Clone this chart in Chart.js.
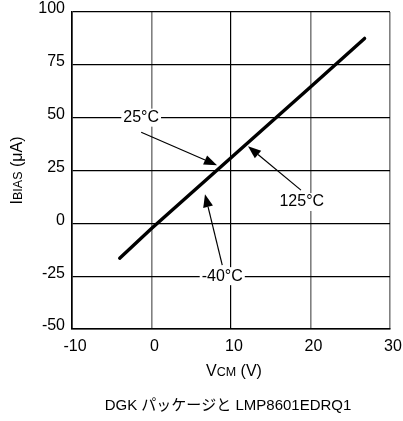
<!DOCTYPE html>
<html>
<head>
<meta charset="utf-8">
<script src="https://cdn.jsdelivr.net/npm/chart.js@4"></script>
<style>
  body { margin: 0; background: #fff; }
</style>
</head>
<body>
<canvas id="canvas" width="403" height="421"></canvas>
<script>
// bias current vs common-mode voltage
const vcm = [-4, 0, 10, 20, 26.8];
const ibias = [-16.5, -2.5, 31, 64.5, 87.5];
const xTicks = [-10, 0, 10, 20, 30];
const yTicks = [-50, -25, 0, 25, 50, 75, 100];

// temperature labels: text position and arrow tail/tip, in data units
const tempLabels = ['25°C', '125°C', '-40°C'];
const labelAt = [[-1.3, 50], [18.9, 10.1], [8.9, -25]];
const arrowFrom = [[-1.3, 43.1], [18.8, 15.7], [8.9, -19.8]];
const arrowTo = [[8.24, 27.5], [12.14, 36.5], [6.73, 13.8]];

const FONT = "'Liberation Sans', Arial, sans-serif";

function arrow(c, x1, y1, x2, y2) {
    const a = Math.atan2(y2 - y1, x2 - x1);
    const len = 13, half = 5;
    c.beginPath();
    c.moveTo(x1, y1);
    c.lineTo(x2 - Math.cos(a) * len, y2 - Math.sin(a) * len);
    c.lineWidth = 1.2;
    c.strokeStyle = '#000';
    c.stroke();
    c.beginPath();
    c.moveTo(x2, y2);
    c.lineTo(x2 - Math.cos(a) * len - Math.sin(a) * half, y2 - Math.sin(a) * len + Math.cos(a) * half);
    c.lineTo(x2 - Math.cos(a) * len + Math.sin(a) * half, y2 - Math.sin(a) * len - Math.cos(a) * half);
    c.closePath();
    c.fillStyle = '#000';
    c.fill();
}

// draws text pieces side by side, big/small mixed
function runs(c, parts, x, y) {
    let w = 0;
    parts.forEach(p => { c.font = p[1] + 'px ' + FONT; w += c.measureText(p[0]).width; });
    let cx = x - w / 2;
    parts.forEach(p => {
        c.font = p[1] + 'px ' + FONT;
        c.fillText(p[0], cx, y);
        cx += c.measureText(p[0]).width;
    });
}

const extras = {
    id: 'extras',
    afterDraw(chart) {
        const c = chart.ctx, xs = chart.scales.x, ys = chart.scales.y, area = chart.chartArea;
        c.save();
        c.textBaseline = 'middle';
        c.font = '16px ' + FONT;
        tempLabels.forEach((t, i) => {
            const px = xs.getPixelForValue(labelAt[i][0]);
            const py = ys.getPixelForValue(labelAt[i][1]);
            const w = c.measureText(t).width;
            c.fillStyle = '#fff';
            c.fillRect(px - w / 2 - 2, py - 9, w + 4, 18);
            c.fillStyle = '#000';
            c.textAlign = 'center';
            c.fillText(t, px, py);
            arrow(c,
                xs.getPixelForValue(arrowFrom[i][0]), ys.getPixelForValue(arrowFrom[i][1]),
                xs.getPixelForValue(arrowTo[i][0]), ys.getPixelForValue(arrowTo[i][1]));
        });

        c.textAlign = 'left';
        c.textBaseline = 'alphabetic';
        c.fillStyle = '#000';
        runs(c, [['V', 16], ['CM', 12.5], [' (V)', 16]], (area.left + area.right) / 2 + 3, 376);

        c.save();
        c.translate(22, (area.top + area.bottom) / 2);
        c.rotate(-Math.PI / 2);
        runs(c, [['I', 16], ['BIAS', 12.5], [' (μA)', 16]], 0, 0);
        c.restore();

        c.textAlign = 'center';
        c.textBaseline = 'middle';
        c.font = "15px 'Liberation Sans', Arial, 'Noto Sans CJK JP', sans-serif";
        c.fillText('DGK パッケージと LMP8601EDRQ1', 228, 406);
        c.restore();
    }
};

const ctx = document.getElementById('canvas').getContext('2d');
const myChart = new Chart(ctx, {
    type: 'line',
    data: {
        datasets: [{
            data: vcm.map((v, i) => ({ x: v, y: ibias[i] })),
            borderColor: '#000',
            borderWidth: 3.4,
            pointRadius: 0,
            tension: 0,
            borderCapStyle: 'round'
        }]
    },
    options: {
        responsive: false,
        animation: false,
        devicePixelRatio: 1,
        layout: { padding: { top: 12, right: 13, left: 0, bottom: 0 } },
        plugins: {
            legend: { display: false },
            tooltip: { enabled: false }
        },
        scales: {
            x: {
                type: 'linear',
                min: -10,
                max: 30,
                afterFit: s => { s.height = 92; s.paddingLeft = 0; s.paddingRight = 0; },
                afterBuildTicks: s => { s.ticks = xTicks.map(v => ({ value: v })); },
                ticks: {
                    color: '#000',
                    font: { family: FONT, size: 16 },
                    padding: 8,
                    labelOffset: 3,
                    maxRotation: 0
                },
                grid: {
                    drawTicks: false,
                    color: c => c.tick && c.tick.value === 10 ? '#000' : '#808080',
                    lineWidth: c => c.tick && c.tick.value === 10 ? 1.2 : 1.6
                },
                border: { color: '#000', width: 1.6 }
            },
            y: {
                min: -50,
                max: 100,
                afterFit: s => { s.width = 72; s.paddingTop = 0; s.paddingBottom = 0; },
                afterBuildTicks: s => { s.ticks = yTicks.map(v => ({ value: v })); },
                ticks: {
                    color: '#000',
                    font: { family: FONT, size: 16 },
                    padding: 7,
                    labelOffset: -3
                },
                grid: {
                    drawTicks: false,
                    color: '#000',
                    lineWidth: 1.2
                },
                border: { color: '#000', width: 1.6 }
            }
        }
    },
    plugins: [extras]
});
</script>
</body>
</html>
